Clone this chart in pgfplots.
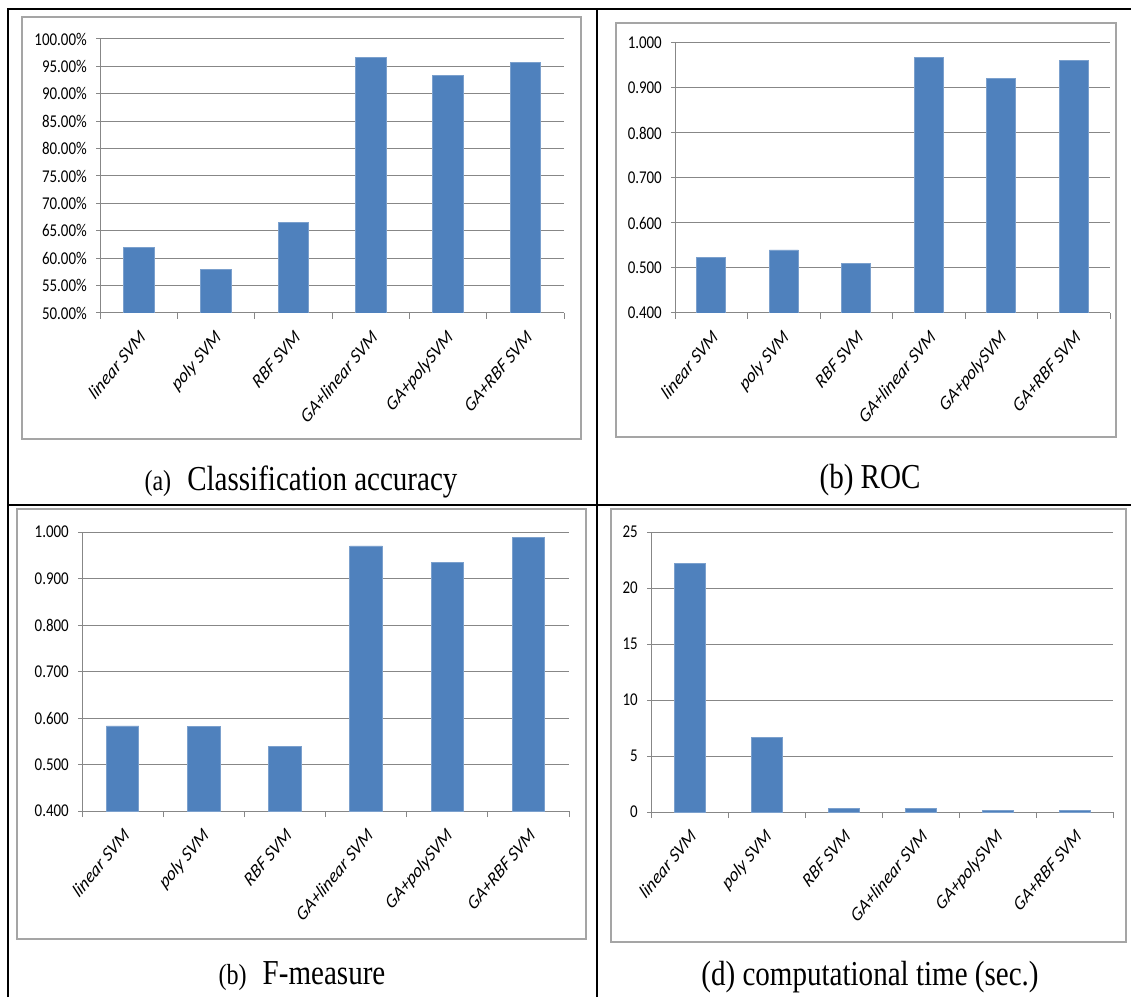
\documentclass[border=0pt]{standalone}
\usepackage{fontspec}
\usepackage{graphicx}
\usepackage{pgfplots}
\pgfplotsset{compat=1.18}
\newfontfamily\ytfont[FakeStretch=0.83]{Carlito}
\newfontfamily\xtfont{Carlito}
\newfontfamily\capfont[FakeStretch=0.83]{Liberation Serif}
\definecolor{barblue}{HTML}{4F81BD}
\definecolor{gridgray}{HTML}{878787}
\definecolor{framegray}{HTML}{A5A5A5}
\newcommand{\xl}[1]{\scalebox{1}[1.2]{\rotatebox{45}{#1}}}
\pgfplotsset{
 excel/.style={
  scale only axis,
  axis x line*=bottom, axis y line*=left,
  axis line style={-, draw=gridgray, line width=1pt},
  xmin=0.5, xmax=6.5,
  xtick={1,2,3,4,5,6},
  xticklabels={{\xl{linear SVM}},{\xl{poly SVM}},{\xl{RBF SVM}},{\xl{GA+linear SVM}},{\xl{GA+polySVM}},{\xl{GA+RBF SVM}}},
  every major x tick/.append style={draw=none},
  minor xtick={0.5,1.5,2.5,3.5,4.5,5.5,6.5},
  every minor x tick/.append style={draw=gridgray, line width=1pt},
  minor tick length=6pt, major tick length=4pt,
  tick align=outside,
  every major y tick/.append style={draw=gridgray, line width=1pt},
  ymajorgrids, major grid style={draw=gridgray, line width=1pt},
  ybar,
  xticklabel style={font=\xtfont\itshape\fontsize{16.5}{18}\selectfont, anchor=north east, inner sep=0pt, xshift=8pt, yshift=-12pt},
  yticklabel style={font=\ytfont\fontsize{18}{20}\selectfont, anchor=east, inner sep=0pt, xshift=-9pt},
  /pgf/number format/assume math mode=true,
 },
 dec3/.style={yticklabel style={/pgf/number format/fixed, /pgf/number format/fixed zerofill, /pgf/number format/precision=3}},
}
\begin{document}
\begin{tikzpicture}
\useasboundingbox (0pt,0pt) rectangle (1131pt,997pt);
% table lines
\draw[line width=1.5pt] (8pt,0pt) -- (8pt,988pt) -- (1131pt,988pt);
\draw[line width=1.5pt] (597pt,0pt) -- (597pt,988pt);
\draw[line width=1.5pt] (8pt,492pt) -- (1131pt,492pt);
% chart frames
\draw[draw=framegray, line width=2.5pt] (22pt,558pt) rectangle (581pt,980pt);
\draw[draw=framegray, line width=2.5pt] (616pt,560pt) rectangle (1116pt,974pt);
\draw[draw=framegray, line width=2.5pt] (17pt,58pt) rectangle (586pt,488pt);
\draw[draw=framegray, line width=2.5pt] (611pt,55pt) rectangle (1126pt,488pt);

% (a) classification accuracy
\begin{axis}[excel, at={(100pt,684pt)}, anchor=south west, width=464pt, height=274pt,
  ymin=50, ymax=100, ytick={50,55,60,65,70,75,80,85,90,95,100}, bar width=30.5pt,
  yticklabel={\pgfmathprintnumber[fixed,fixed zerofill,precision=2]{\tick}\%}]
\addplot[fill=barblue, draw=barblue!75!white, line width=0.8pt] coordinates {(1,61.9) (2,57.9) (3,66.5) (4,96.7) (5,93.4) (6,95.7)};
\end{axis}

% (b) ROC
\begin{axis}[excel, dec3, at={(675pt,684pt)}, anchor=south west, width=435pt, height=270pt,
  ymin=0.4, ymax=1.0, ytick={0.4,0.5,0.6,0.7,0.8,0.9,1.0}, bar width=29pt]
\addplot[fill=barblue, draw=barblue!75!white, line width=0.8pt] coordinates {(1,0.524) (2,0.540) (3,0.511) (4,0.967) (5,0.921) (6,0.962)};
\end{axis}

% (c) F-measure
\begin{axis}[excel, dec3, at={(82pt,186pt)}, anchor=south west, width=487pt, height=279pt,
  ymin=0.4, ymax=1.0, ytick={0.4,0.5,0.6,0.7,0.8,0.9,1.0}, bar width=32.5pt]
\addplot[fill=barblue, draw=barblue!75!white, line width=0.8pt] coordinates {(1,0.583) (2,0.581) (3,0.538) (4,0.970) (5,0.935) (6,0.989)};
\end{axis}

% (d) computational time
\begin{axis}[excel, at={(651pt,185pt)}, anchor=south west, width=462pt, height=280pt,
  ymin=0, ymax=25, ytick={0,5,10,15,20,25}, bar width=31pt]
\addplot[fill=barblue, draw=barblue!75!white, line width=0.8pt] coordinates {(1,22.2) (2,6.68) (3,0.3) (4,0.3) (5,0.12) (6,0.1)};
\end{axis}

% captions
\node[anchor=base, inner sep=0pt, font=\capfont\fontsize{35}{40}\selectfont] at (301pt,507pt) {{\fontsize{29}{32}\selectfont(a)}\hspace{16pt}Classification accuracy};
\node[anchor=base, inner sep=0pt, font=\capfont\fontsize{35}{40}\selectfont] at (870pt,508pt) {(b) ROC};
\node[anchor=base, inner sep=0pt, font=\capfont\fontsize{35}{40}\selectfont] at (302pt,13pt) {{\fontsize{29}{32}\selectfont(b)}\hspace{16pt}F-measure};
\node[anchor=base, inner sep=0pt, font=\capfont\fontsize{35}{40}\selectfont] at (870pt,12pt) {(d) computational time (sec.)};
\end{tikzpicture}
\end{document}
